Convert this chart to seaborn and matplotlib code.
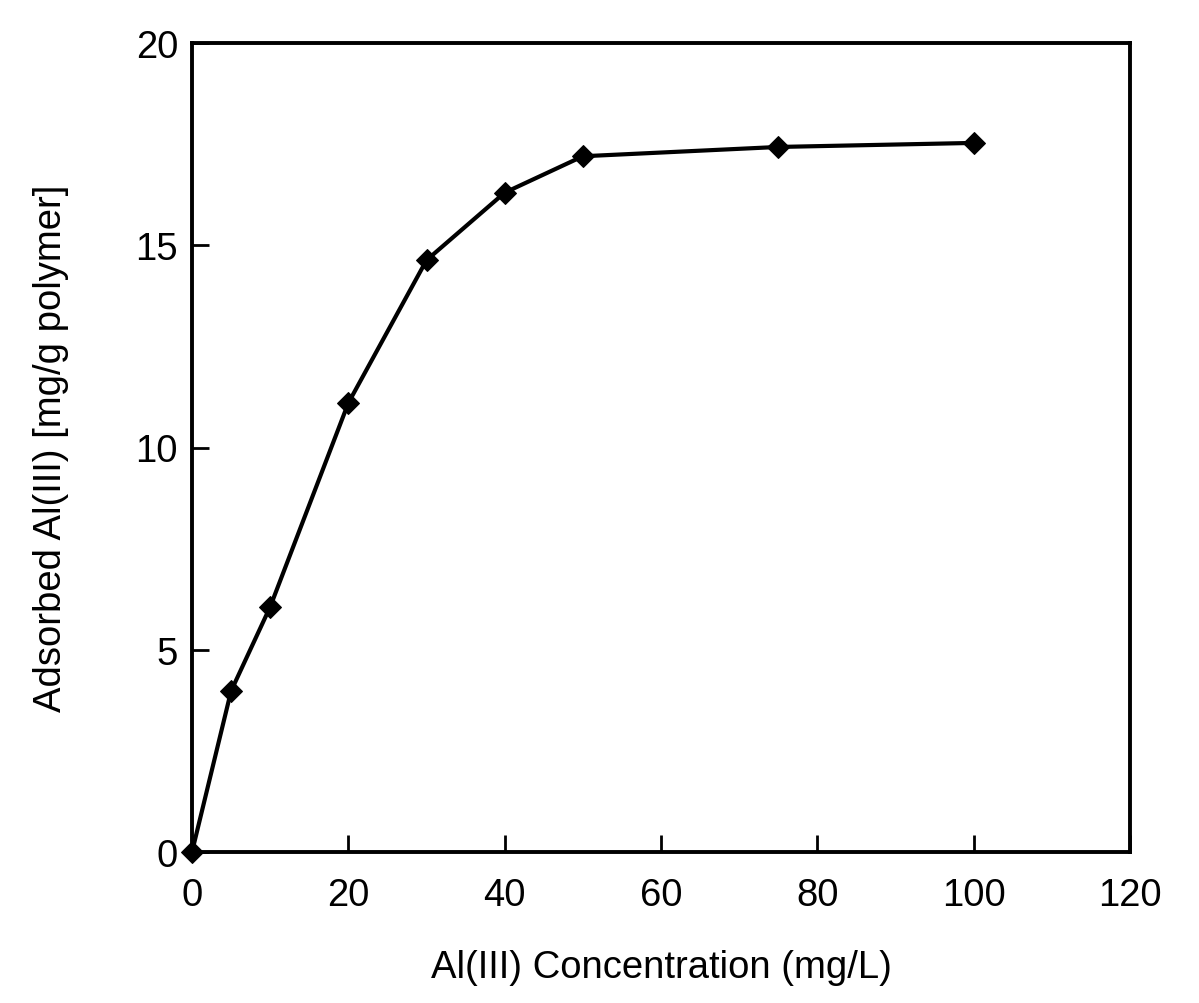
import matplotlib
matplotlib.use("Agg")
import matplotlib.pyplot as plt
import seaborn as sns
import pandas as pd

concentration = [0, 5, 10, 20, 30, 40, 50, 75, 100]
adsorbed = [0.0, 3.98, 6.06, 11.1, 14.63, 16.3, 17.2, 17.43, 17.53]

df = pd.DataFrame({"conc": concentration, "ads": adsorbed})

sns.set_style("white")
plt.rcParams["font.family"] = ["Liberation Sans", "DejaVu Sans"]
plt.rcParams["text.color"] = "black"
plt.rcParams["axes.labelcolor"] = "black"

fig = plt.figure(figsize=(11.99, 10.04), dpi=100)
ax = fig.add_axes([192 / 1199, 1 - 853 / 1004, (1130 - 192) / 1199, (853 - 44) / 1004])

sns.lineplot(data=df, x="conc", y="ads", ax=ax, color="black", linewidth=3,
             marker="D", markersize=11, markeredgecolor="black", markerfacecolor="black")

ax.set_xlim(0, 120)
ax.set_ylim(0, 20)
ax.set_xticks(range(0, 121, 20))
ax.set_yticks(range(0, 21, 5))
ax.tick_params(direction="in", length=12, width=2, labelsize=27.5, pad=18,
               top=False, right=False, bottom=True, left=True, colors="black")
ax.tick_params(axis="y", pad=10)
for sp in ax.spines.values():
    sp.set_linewidth(2.8)
    sp.set_color("black")

ax.set_xlabel("Al(III) Concentration (mg/L)", fontsize=27.5, labelpad=26)
ax.set_ylabel("Adsorbed Al(III) [mg/g polymer]", fontsize=27.5, labelpad=48)
for c in ax.lines:
    c.set_clip_on(False)

fig.savefig("out.png", dpi=100)
